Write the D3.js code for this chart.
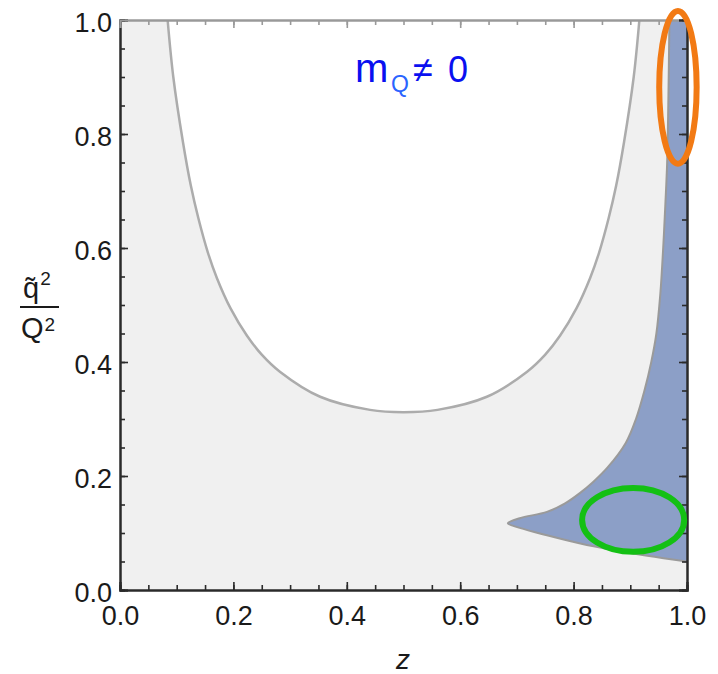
<!DOCTYPE html>
<html>
<head>
<meta charset="utf-8">
<script src="https://cdn.jsdelivr.net/npm/d3@7"></script>
<style>
  html, body { margin: 0; padding: 0; background: #ffffff; }
  svg { display: block; }
  text { font-family: "Liberation Sans", Arial, sans-serif; }
</style>
</head>
<body>
<svg id="chart" width="718" height="674"></svg>
<script>
// ---- data ----
// U-shaped boundary of the white (unshaded) region: z and q~^2/Q^2
const uCurveZ = [0.084, 0.094, 0.111, 0.125, 0.138, 0.155, 0.171, 0.195, 0.224, 0.250, 0.282, 0.353, 0.441, 0.500, 0.560, 0.647, 0.718, 0.750, 0.776, 0.805, 0.829, 0.845, 0.862, 0.875, 0.889, 0.906, 0.916];
const uCurveY = [1.000, 0.900, 0.786, 0.709, 0.653, 0.592, 0.547, 0.494, 0.446, 0.413, 0.383, 0.339, 0.316, 0.312, 0.316, 0.339, 0.383, 0.413, 0.446, 0.494, 0.547, 0.592, 0.653, 0.709, 0.786, 0.900, 1.000];

// left edge of the blue region (as q~^2/Q^2 rises), its right edge is z = 1
const blueEdgeY = [0.050, 0.060, 0.070, 0.082, 0.096, 0.109, 0.117, 0.126, 0.137, 0.152, 0.170, 0.190, 0.215, 0.258, 0.300, 0.350, 0.400, 0.450, 0.520, 0.600, 0.680, 0.750, 0.850, 1.000];
const blueEdgeZ = [1.000, 0.930, 0.870, 0.810, 0.753, 0.705, 0.684, 0.705, 0.753, 0.785, 0.811, 0.835, 0.860, 0.892, 0.910, 0.925, 0.937, 0.946, 0.953, 0.958, 0.962, 0.965, 0.967, 0.969];

// highlight ellipses
const ellipseNames   = ["orange", "green"];
const ellipseCenterZ = [0.984, 0.905];
const ellipseCenterY = [0.882, 0.123];
const ellipseRadiusZ = [0.033, 0.090];
const ellipseRadiusY = [0.134, 0.056];
const ellipseColors  = ["#f27a14", "#14c014"];

// ticks
const xTicks = [0.0, 0.2, 0.4, 0.6, 0.8, 1.0];
const yTicks = [0.0, 0.2, 0.4, 0.6, 0.8, 1.0];
const minorTicks = d3.range(0, 21).map(i => i * 0.05);

// ---- layout ----
const svg = d3.select("#chart");
const pL = 120, pR = 687, pT = 20, pB = 590;
const x = d3.scaleLinear().domain([0, 1]).range([pL, pR]);
const y = d3.scaleLinear().domain([0, 1]).range([pB, pT]);

svg.append("defs").append("clipPath").attr("id", "plotclip")
  .append("rect").attr("x", pL).attr("y", pT)
  .attr("width", pR - pL).attr("height", pB - pT);

const plot = svg.append("g").attr("clip-path", "url(#plotclip)");

// grey background
plot.append("rect").attr("x", pL).attr("y", pT)
  .attr("width", pR - pL).attr("height", pB - pT)
  .attr("fill", "#f0f0f0");

const uData = uCurveZ.map((z, i) => ({ z, v: uCurveY[i] }));
const smooth = d3.curveCatmullRom.alpha(0.5);

// white region above the U curve
plot.append("path")
  .datum(uData)
  .attr("fill", "#ffffff")
  .attr("d", d3.area().curve(smooth)
    .x(d => x(d.z)).y0(y(1.05)).y1(d => y(d.v)));

// U curve line
plot.append("path")
  .datum(uData)
  .attr("fill", "none")
  .attr("stroke", "#acacac")
  .attr("stroke-width", 2.5)
  .attr("d", d3.line().curve(smooth).x(d => x(d.z)).y(d => y(d.v)));

// blue region
const blueData = blueEdgeY.map((v, i) => ({ v, z: blueEdgeZ[i] }));
plot.append("path")
  .datum(blueData)
  .attr("fill", "#8c9fc7")
  .attr("d", d3.area().curve(smooth)
    .y(d => y(d.v)).x0(d => x(d.z)).x1(x(1.02)));

plot.append("path")
  .datum(blueData)
  .attr("fill", "none")
  .attr("stroke", "#9a9a9a")
  .attr("stroke-width", 2)
  .attr("d", d3.line().curve(smooth).x(d => x(d.z)).y(d => y(d.v)));

// ---- frame and ticks ----
function styleAxis(g, color) {
  g.select(".domain").attr("stroke", color).attr("stroke-width", 2);
  g.selectAll(".tick line").attr("stroke", color).attr("stroke-width", 1.6);
}

// minor ticks
svg.append("g").attr("transform", `translate(0,${pB})`)
  .call(d3.axisBottom(x).tickValues(minorTicks).tickSize(-5).tickFormat(""))
  .call(g => styleAxis(g, "#2a2a2a"));
svg.append("g").attr("transform", `translate(0,${pT})`)
  .call(d3.axisTop(x).tickValues(minorTicks).tickSize(-5).tickFormat(""))
  .call(g => styleAxis(g, "#999999"));
svg.append("g").attr("transform", `translate(${pL},0)`)
  .call(d3.axisLeft(y).tickValues(minorTicks).tickSize(-5).tickFormat(""))
  .call(g => styleAxis(g, "#2a2a2a"));
svg.append("g").attr("transform", `translate(${pR},0)`)
  .call(d3.axisRight(y).tickValues(minorTicks).tickSize(-5).tickFormat(""))
  .call(g => styleAxis(g, "#2a2a2a"));

// major ticks with labels
const xAxis = svg.append("g").attr("transform", `translate(0,${pB})`)
  .call(d3.axisBottom(x).tickValues(xTicks).tickSize(-8).tickPadding(16).tickFormat(d3.format(".1f")))
  .call(g => styleAxis(g, "#2a2a2a"));
xAxis.selectAll("text").attr("font-size", 27).attr("fill", "#1a1a1a");

const yAxis = svg.append("g").attr("transform", `translate(${pL},0)`)
  .call(d3.axisLeft(y).tickValues(yTicks).tickSize(-8).tickPadding(8).tickFormat(d3.format(".1f")))
  .call(g => styleAxis(g, "#2a2a2a"));
yAxis.selectAll("text").attr("font-size", 27).attr("fill", "#1a1a1a").attr("dy", "0.42em");

svg.append("g").attr("transform", `translate(0,${pT})`)
  .call(d3.axisTop(x).tickValues(xTicks).tickSize(-8).tickFormat(""))
  .call(g => styleAxis(g, "#999999"));
svg.append("g").attr("transform", `translate(${pR},0)`)
  .call(d3.axisRight(y).tickValues(yTicks).tickSize(-8).tickFormat(""))
  .call(g => styleAxis(g, "#2a2a2a"));

// ---- ellipses ----
svg.append("g").selectAll("ellipse")
  .data(ellipseNames)
  .join("ellipse")
  .attr("cx", (d, i) => x(ellipseCenterZ[i]))
  .attr("cy", (d, i) => y(ellipseCenterY[i]))
  .attr("rx", (d, i) => x(ellipseRadiusZ[i]) - x(0))
  .attr("ry", (d, i) => y(0) - y(ellipseRadiusY[i]))
  .attr("fill", "none")
  .attr("stroke", (d, i) => ellipseColors[i])
  .attr("stroke-width", 6);

// ---- annotation m_Q ≠ 0 ----
const ann = svg.append("g");
ann.append("text").attr("x", 355).attr("y", 82).attr("font-size", 40).attr("fill", "#0a10f0").text("m");
ann.append("text").attr("x", 391).attr("y", 92).attr("font-size", 23).attr("fill", "#2a64ff").text("Q");
ann.append("text").attr("x", 413).attr("y", 82).attr("font-size", 36).attr("fill", "#0a10f0").text("≠");
ann.append("text").attr("x", 448).attr("y", 82).attr("font-size", 36).attr("fill", "#0a10f0").text("0");

// ---- axis titles ----
svg.append("text").attr("x", 403).attr("y", 669).attr("text-anchor", "middle")
  .attr("font-size", 28).attr("font-style", "italic").attr("fill", "#1a1a1a").text("z");

const yl = svg.append("g").attr("fill", "#1a1a1a");
const num = yl.append("text").attr("x", 23).attr("y", 298).attr("font-size", 29);
num.append("tspan").text("q\u0303");
num.append("tspan").attr("font-size", 19).attr("dy", -13).attr("dx", 1).text("2");
yl.append("line").attr("x1", 20).attr("x2", 59).attr("y1", 307).attr("y2", 307)
  .attr("stroke", "#1a1a1a").attr("stroke-width", 2);
const den = yl.append("text").attr("x", 21).attr("y", 338).attr("font-size", 29);
den.append("tspan").text("Q");
den.append("tspan").attr("font-size", 19).attr("dy", -7).attr("dx", 1).text("2");
</script>
</body>
</html>
